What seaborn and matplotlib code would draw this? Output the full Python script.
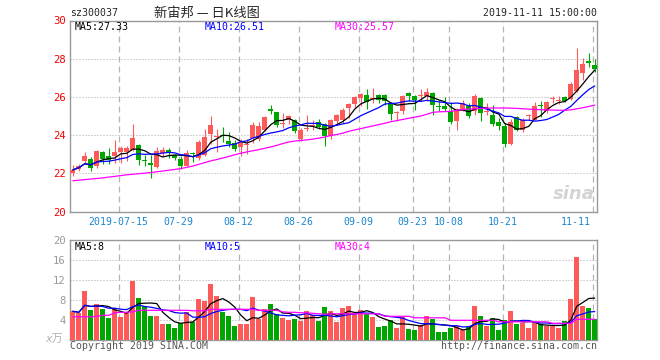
import numpy as np
import pandas as pd
import matplotlib
matplotlib.use("Agg")
import matplotlib.pyplot as plt
import seaborn as sns

W, H = 660, 360

# daily K-line 2019-07-03 .. 2019-11-11
open_ = [22.02, 22.24, 22.62, 22.76, 22.40, 23.12, 22.88, 22.92, 23.12, 23.10,
         23.21, 23.50, 22.70, 22.54, 22.31, 23.07, 23.24, 22.97, 22.77, 22.39,
         23.04, 22.79, 22.98, 24.05, 23.92, 23.97, 23.67, 23.60, 23.36, 23.47,
         23.84, 23.80, 24.28, 25.36, 25.20, 24.57, 24.80, 24.81, 23.81, 24.30,
         24.47, 24.68, 24.58, 23.96, 24.72, 24.81, 25.42, 25.63, 25.95, 26.09,
         25.87, 26.12, 26.12, 25.68, 25.14, 25.28, 26.21, 26.07, 26.05, 26.07,
         26.21, 25.49, 25.54, 25.28, 24.72, 25.37, 25.51, 25.25, 25.96, 25.19,
         25.04, 24.68, 24.49, 23.53, 24.95, 24.28, 25.00, 24.81, 25.56, 25.28,
         25.87, 25.79, 26.00, 25.89, 26.33, 27.26, 27.86, 27.65]
high = [22.45, 22.48, 23.12, 22.85, 23.20, 23.15, 23.30, 23.73, 23.42, 23.42,
        24.60, 23.52, 22.97, 22.95, 23.36, 23.40, 23.30, 23.00, 22.92, 23.23,
        23.09, 23.72, 24.32, 24.98, 24.33, 24.44, 24.15, 23.75, 23.80, 23.77,
        24.68, 24.70, 24.98, 25.56, 25.22, 25.16, 25.03, 24.85, 24.37, 25.07,
        24.77, 24.84, 24.62, 24.85, 25.12, 25.42, 25.68, 26.05, 26.20, 26.39,
        26.44, 26.17, 26.15, 25.72, 25.25, 26.12, 26.24, 26.10, 26.39, 26.44,
        26.25, 25.77, 26.00, 25.74, 25.42, 25.86, 25.68, 26.17, 26.00, 25.68,
        25.60, 24.90, 24.65, 24.84, 25.02, 24.90, 25.12, 25.72, 25.77, 25.80,
        26.07, 26.07, 26.07, 26.77, 28.54, 28.02, 28.28, 28.00]
low = [21.85, 22.12, 22.48, 22.12, 22.30, 22.50, 22.50, 22.55, 22.55, 22.62,
       23.15, 22.45, 22.40, 21.78, 22.28, 22.90, 22.80, 22.70, 22.25, 22.38,
       22.61, 22.72, 22.90, 23.53, 23.14, 23.63, 23.40, 23.18, 22.88, 23.00,
       23.60, 23.67, 24.20, 25.08, 24.45, 24.37, 24.60, 24.12, 23.67, 24.19,
       24.25, 24.32, 23.44, 23.79, 24.55, 24.63, 24.89, 25.42, 25.50, 25.37,
       25.68, 25.68, 25.60, 24.81, 24.72, 25.12, 25.81, 25.33, 25.77, 25.80,
       25.07, 25.25, 25.25, 24.60, 24.28, 25.25, 24.89, 25.07, 24.72, 25.04,
       24.46, 24.25, 23.40, 23.50, 24.19, 24.18, 24.81, 24.78, 24.95, 25.15,
       25.68, 25.65, 25.72, 25.85, 26.28, 26.91, 27.58, 27.32]
close = [22.18, 22.40, 22.92, 22.28, 23.18, 22.75, 22.72, 23.09, 23.35, 23.33,
         23.84, 22.72, 22.66, 22.46, 23.19, 23.24, 23.08, 22.82, 22.39, 23.07,
         23.00, 23.63, 23.91, 24.54, 23.95, 23.93, 23.54, 23.28, 23.66, 23.50,
         24.55, 24.47, 24.93, 25.28, 24.55, 24.62, 24.98, 24.20, 24.28, 24.33,
         24.50, 24.45, 23.93, 24.81, 25.04, 25.33, 25.63, 26.00, 26.16, 25.74,
         25.92, 25.86, 25.78, 25.11, 25.18, 26.07, 26.07, 25.86, 26.08, 26.26,
         25.56, 25.45, 25.39, 24.68, 25.37, 25.68, 24.98, 26.07, 25.16, 25.23,
         24.60, 24.46, 23.54, 24.70, 24.25, 24.77, 25.04, 25.54, 25.52, 25.75,
         25.91, 25.83, 25.76, 26.65, 27.39, 27.74, 27.79, 27.44]
volume = [5.8, 5.4, 9.8, 6.1, 7.2, 6.2, 4.4, 6.5, 4.6, 5.4,
          11.9, 8.4, 6.8, 4.8, 4.8, 3.2, 3.2, 2.4, 3.4, 5.7,
          3.6, 8.2, 7.9, 11.2, 8.8, 5.6, 4.8, 2.8, 3.2, 3.2,
          8.6, 4.2, 6.2, 7.2, 5.2, 4.4, 4.0, 4.2, 3.8, 5.8,
          5.0, 3.8, 6.6, 5.8, 3.6, 6.4, 6.8, 5.2, 6.0, 5.2,
          4.6, 2.6, 2.8, 4.0, 2.4, 4.6, 2.2, 2.0, 3.0, 4.8,
          4.3, 1.6, 1.6, 2.4, 2.8, 2.0, 2.6, 6.8, 4.8, 2.8,
          4.4, 2.0, 4.0, 5.8, 3.2, 3.4, 2.4, 3.4, 3.2, 2.8,
          3.0, 2.4, 3.8, 8.2, 16.6, 6.8, 6.4, 4.2]
ma30_price = [21.61, 21.64, 21.67, 21.70, 21.73, 21.76, 21.80, 21.84, 21.88, 21.92,
              21.95, 21.98, 22.01, 22.04, 22.08, 22.12, 22.16, 22.20, 22.25, 22.31,
              22.38, 22.47, 22.56, 22.65, 22.72, 22.80, 22.88, 22.97, 23.05, 23.12,
              23.18, 23.24, 23.31, 23.38, 23.46, 23.56, 23.64, 23.69, 23.72, 23.75,
              23.79, 23.84, 23.90, 23.98, 24.03, 24.10, 24.20, 24.27, 24.34, 24.41,
              24.48, 24.55, 24.62, 24.70, 24.76, 24.82, 24.88, 24.94, 25.00, 25.09,
              25.19, 25.22, 25.23, 25.24, 25.30, 25.34, 25.36, 25.38, 25.40, 25.41,
              25.42, 25.42, 25.42, 25.41, 25.40, 25.38, 25.36, 25.34, 25.33, 25.32,
              25.31, 25.30, 25.30, 25.32, 25.38, 25.43, 25.50, 25.57]
ma30_vol = [4.7, 4.7, 4.7, 4.7, 4.8, 5.0, 5.0, 5.5, 5.6, 5.6,
            5.7, 6.0, 6.0, 6.0, 6.0, 6.0, 6.0, 6.0, 6.0, 6.0,
            5.9, 5.9, 5.9, 6.2, 6.2, 6.2, 6.2, 6.2, 6.2, 6.2,
            6.2, 6.0, 6.0, 6.0, 6.0, 5.7, 5.6, 5.6, 5.5, 5.5,
            5.4, 5.3, 5.2, 5.3, 5.3, 5.3, 5.3, 5.3, 5.3, 5.3,
            5.3, 5.3, 4.8, 4.8, 4.8, 4.8, 4.8, 4.5, 4.5, 4.5,
            4.5, 4.5, 4.5, 4.0, 4.0, 4.0, 4.0, 4.0, 4.0, 4.0,
            4.0, 3.7, 3.7, 3.7, 3.7, 3.7, 3.7, 3.7, 3.7, 3.7,
            3.4, 3.4, 3.4, 3.4, 4.2, 4.2, 4.2, 4.2]
tick_idx = [8, 18, 28, 38, 48, 57, 63, 72, 87]
tick_lab = ["2019-07-15", "07-29", "08-12", "08-26", "09-09",
            "09-23", "10-08", "10-21", "11-11"]
price_legend = ["MA5:27.33", "MA10:26.51", "MA30:25.57"]
vol_legend = ["MA5:8", "MA10:5", "MA30:4"]

df = pd.DataFrame({"i": np.arange(len(close)), "open": open_, "high": high,
                   "low": low, "close": close, "volume": volume,
                   "ma30": ma30_price, "vma30": ma30_vol})
df["dir"] = np.where(df["close"] >= df["open"], "up", "down")
df["ma5"] = df["close"].rolling(5, min_periods=1).mean()
df["ma10"] = df["close"].rolling(10, min_periods=1).mean()
df["vma5"] = df["volume"].rolling(5, min_periods=1).mean()
df["vma10"] = df["volume"].rolling(10, min_periods=1).mean()

UP, DOWN = "#ff5a5a", "#00a600"
pal = {"up": UP, "down": DOWN}
MA_COLORS = ["black", "#0000ff", "#ff00ff"]
GRID = "#aaaaaa"
DASH = "#b4b4b4"

sns.set_style("white")
plt.rcParams["font.family"] = ["DejaVu Sans Mono", "Noto Sans CJK SC"]
plt.rcParams["lines.scale_dashes"] = False

fig = plt.figure(figsize=(W / 100, H / 100), dpi=100)


def fx(px):
    return px / W


def fy(py):
    return 1 - py / H


ax = fig.add_axes([fx(70), fy(211.5), 527 / W, 191 / H])
axv = fig.add_axes([fx(70), fy(340.3), 527 / W, 100 / H])

# candles
colors = df["dir"].map(pal)
body_lo = df[["open", "close"]].min(axis=1)
body_h = (df["close"] - df["open"]).abs().clip(lower=0.05)
ax.vlines(df["i"], df["low"], df["high"], colors=colors, lw=0.8, zorder=3)
ax.bar(df["i"], body_h, bottom=body_lo, width=0.83, color=colors, lw=0, zorder=3)

for col, c in zip(["ma5", "ma10", "ma30"], MA_COLORS):
    sns.lineplot(data=df, x="i", y=col, color=c, lw=0.9, estimator=None, ax=ax, zorder=4)

# volume
sns.barplot(data=df, x="i", y="volume", hue="dir", palette=pal, native_scale=True,
            dodge=False, width=0.83, saturation=1, errorbar=None, legend=False,
            linewidth=0, ax=axv, zorder=3)
for col, c in zip(["vma5", "vma10", "vma30"], MA_COLORS):
    sns.lineplot(data=df, x="i", y=col, color=c, lw=0.9, estimator=None, ax=axv, zorder=4)

ax.set_ylim(20, 30)
ax.set_yticks(range(20, 31, 2))
axv.set_ylim(0, 20)
axv.set_yticks([4, 8, 12, 16, 20])
for a, lab_c in [(ax, "#ee0000"), (axv, "#999999")]:
    a.set_xlim(-0.467, 87.37)
    a.set_xticks([])
    a.set_xlabel("")
    a.set_ylabel("")
    a.set_axisbelow(True)
    a.yaxis.grid(True, color=GRID, linestyle=(0, (0.72, 1.44)), lw=0.72)
    a.tick_params(axis="y", length=0, pad=3, labelsize=7.6, labelcolor=lab_c)
    for s in a.spines.values():
        s.set_color("#999999")
        s.set_linewidth(1.0)
    for t in tick_idx:
        a.axvline(t - 0.35, color=DASH, lw=0.9, linestyle=(0, (4.3, 2.9)), zorder=1)

# date labels under the price panel
xt = ax.get_xaxis_transform()
for t, lab in zip(tick_idx, tick_lab):
    last = t == tick_idx[-1]
    ax.text(t - 0.35 - (0.35 if last else 0), -0.055, lab, transform=xt,
            ha="right" if last else "center", va="center", fontsize=7.1,
            color="#1a86d0")

ax.text(0.995, 0.09, "sina", transform=ax.transAxes, ha="right", va="center",
        fontsize=13, fontweight="bold", style="italic", color="#d4d4d4",
        family="DejaVu Sans")

# header and legends
fig.text(fx(70), fy(13), "sz300037", fontsize=7.1, va="center")
fig.text(fx(206.5), fy(13), "新宙邦 — 日K线图", fontsize=9.5, ha="center",
         va="center", family=["Noto Sans CJK SC", "DejaVu Sans"])
fig.text(fx(597), fy(13), "2019-11-11 15:00:00", fontsize=7.1, ha="right", va="center")

for px, lab, c in zip([75, 205, 335], price_legend, MA_COLORS):
    fig.text(fx(px), fy(26.5), lab, fontsize=7.1, va="center", color=c)
for px, lab, c in zip([75, 205, 335], vol_legend, MA_COLORS):
    fig.text(fx(px), fy(246.5), lab, fontsize=7.1, va="center", color=c)

fig.text(fx(63), fy(339), "x万", fontsize=8, ha="right", va="center", color="#b0b0b0",
         style="italic", family=["DejaVu Sans", "Noto Sans CJK SC"])
fig.text(fx(70), fy(346), "Copyright 2019 SINA.COM", fontsize=7.1, va="center", color="#555555")
fig.text(fx(597), fy(346), "http://finance.sina.com.cn", fontsize=7.1, ha="right",
         va="center", color="#555555")

fig.savefig("out.png", dpi=100)
